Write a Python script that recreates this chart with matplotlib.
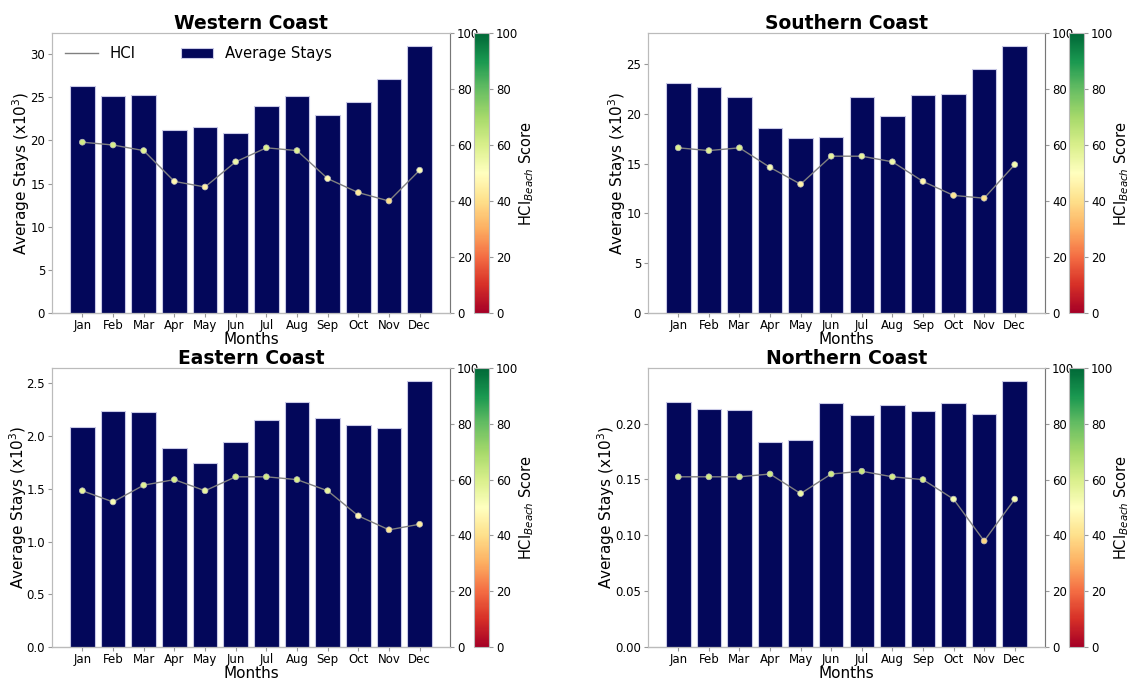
# Average stays and HCI Beach score per coast
import numpy as np
import matplotlib.pyplot as plt
from matplotlib import cm, colors

months = ['Jan', 'Feb', 'Mar', 'Apr', 'May', 'Jun', 'Jul', 'Aug', 'Sep', 'Oct', 'Nov', 'Dec']

western_stays = [26.3, 25.1, 25.3, 21.2, 21.5, 20.8, 24.0, 25.1, 22.9, 24.5, 27.1, 30.9]
western_hci = [61, 60, 58, 47, 45, 54, 59, 58, 48, 43, 40, 51]

southern_stays = [23.05, 22.7, 21.7, 18.55, 17.55, 17.65, 21.65, 19.75, 21.9, 21.95, 24.5, 26.77]
southern_hci = [59, 58, 59, 52, 46, 56, 56, 54, 47, 42, 41, 53]

eastern_stays = [2.085, 2.24, 2.228, 1.889, 1.747, 1.946, 2.155, 2.326, 2.171, 2.108, 2.076, 2.519]
eastern_hci = [56, 52, 58, 60, 56, 61, 61, 60, 56, 47, 42, 44]

northern_stays = [0.2191, 0.2131, 0.2117, 0.1836, 0.1854, 0.2182, 0.2072, 0.2167, 0.2111, 0.2182, 0.2087, 0.2378]
northern_hci = [61, 61, 61, 62, 55, 62, 63, 61, 60, 53, 38, 53]

titles = ['Western Coast', 'Southern Coast', 'Eastern Coast', 'Northern Coast']
stays = [western_stays, southern_stays, eastern_stays, northern_stays]
hcis = [western_hci, southern_hci, eastern_hci, northern_hci]

W, H = 1129, 680
# posiciones en pixeles: (x0, y_top, ancho, alto), barra de color x0
cajas = [(52, 33, 398, 280, 474), (648, 33, 397, 280, 1069),
         (52, 368, 398, 279, 474), (648, 368, 397, 279, 1069)]

cmap = plt.get_cmap('RdYlGn')
norm = colors.Normalize(vmin=0, vmax=100)
gris = '#999999'
barra = '#03075a'

fig = plt.figure(figsize=(W/100, H/100), dpi=100)
x = np.arange(len(months))

for k in range(4):
    x0, yt, w, h, cx = cajas[k]
    ax = fig.add_axes([x0/W, (H-yt-h)/H, w/W, h/H])
    ax2 = ax.twinx()
    cax = fig.add_axes([cx/W, (H-yt-h)/H, 15/W, h/H])

    b = ax.bar(x, stays[k], width=0.8, color=barra, edgecolor='#c9c9e6', linewidth=0.8,
               label='Average Stays')
    l, = ax2.plot(x, hcis[k], color='gray', linewidth=1.0, label='HCI', zorder=2)
    ax2.scatter(x, hcis[k], c=hcis[k], cmap=cmap, norm=norm, s=18,
                edgecolors='#bbbbbb', linewidths=0.5, zorder=3)
    ax2.set_ylim(0, 100)
    ax2.set_yticks(np.arange(0, 101, 20))

    ax.set_xticks(x)
    ax.set_xticklabels(months)
    ax.set_title(titles[k], fontsize=13.5, fontweight='bold', pad=3)
    ax.set_xlabel('Months', fontsize=11, labelpad=0)
    ax.set_ylabel(r'Average Stays (x10$^3$)', fontsize=11, labelpad=-1.5)
    for a in (ax, ax2):
        a.tick_params(labelsize=8.5, color=gris, length=3, pad=2)
        for s in a.spines.values():
            s.set_color('#bbbbbb')
    ax.tick_params(axis='x', pad=1.5)
    ax.spines['bottom'].set_color('#555555')
    ax2.spines['right'].set_color('#777777')

    if k == 0:
        ax.legend([l, b], ['HCI', 'Average Stays'], loc='upper left', ncol=2,
                  frameon=False, fontsize=10.7, columnspacing=3.0, handlelength=2.2)

    cb = fig.colorbar(cm.ScalarMappable(norm=norm, cmap=cmap), cax=cax)
    cb.set_ticks(np.arange(0, 101, 20))
    cb.ax.tick_params(labelsize=8.5, color=gris, length=3, pad=2)
    cb.outline.set_edgecolor('#bbbbbb')
    cb.set_label(r'HCI$_{Beach}$ Score', fontsize=10.5, labelpad=-0.5)

fig.savefig('out.png', dpi=100)
